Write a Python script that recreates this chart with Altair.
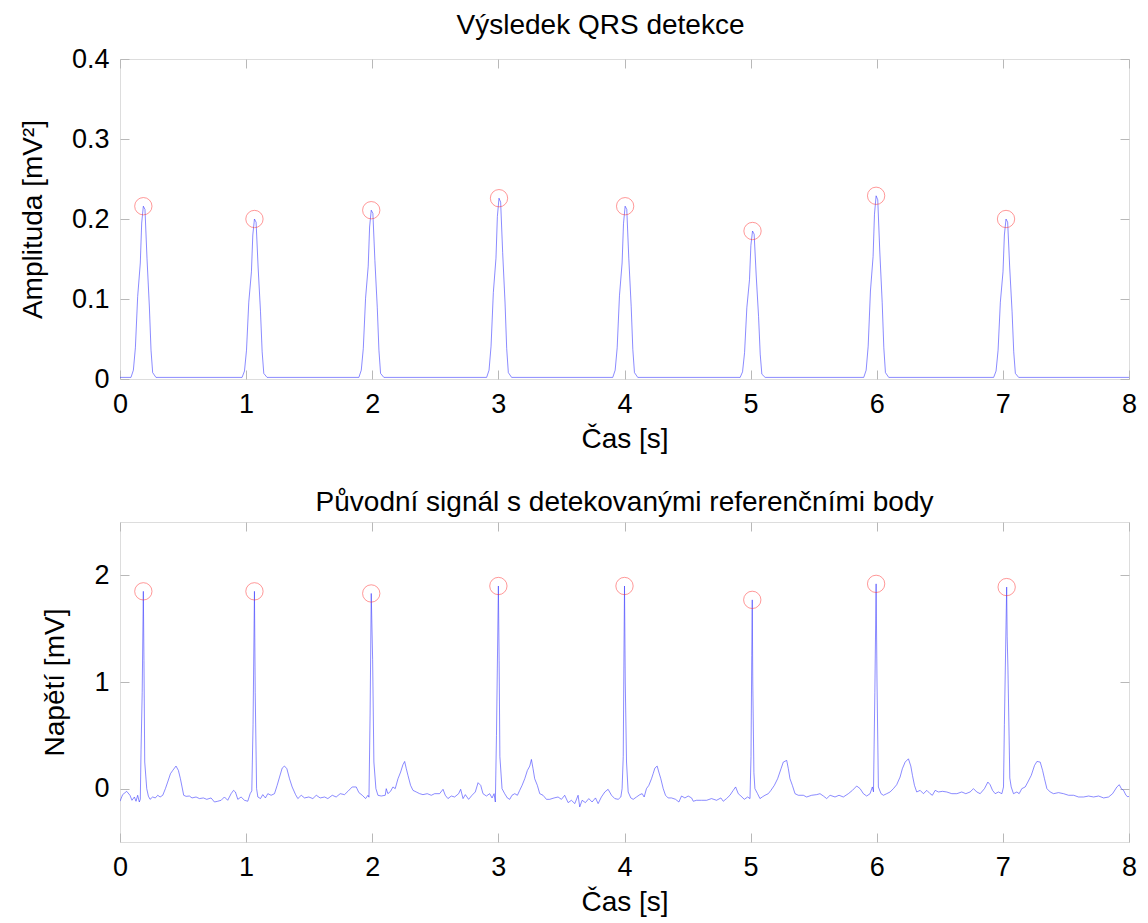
import altair as alt
import pandas as pd

# ---------------- data ----------------
# Top panel: QRS detector output (amplitude in mV^2)
top_time = [0.000,
    0.087, 0.106, 0.122, 0.140, 0.161, 0.172, 0.185, 0.198, 0.214, 0.233, 0.246, 0.259, 0.285,
    0.968, 0.987, 1.003, 1.021, 1.042, 1.053, 1.066, 1.079, 1.095, 1.114, 1.127, 1.140, 1.166,
    1.894, 1.913, 1.929, 1.947, 1.968, 1.979, 1.992, 2.005, 2.021, 2.040, 2.053, 2.066, 2.092,
    2.907, 2.926, 2.942, 2.960, 2.981, 2.992, 3.005, 3.018, 3.034, 3.053, 3.066, 3.079, 3.105,
    3.907, 3.926, 3.942, 3.960, 3.981, 3.992, 4.005, 4.018, 4.034, 4.053, 4.066, 4.079, 4.105,
    4.917, 4.936, 4.952, 4.970, 4.991, 5.002, 5.015, 5.028, 5.044, 5.063, 5.076, 5.089, 5.115,
    5.897, 5.916, 5.932, 5.950, 5.971, 5.982, 5.995, 6.008, 6.024, 6.043, 6.056, 6.069, 6.095,
    6.927, 6.946, 6.962, 6.980, 7.001, 7.012, 7.025, 7.038, 7.054, 7.073, 7.086, 7.099, 7.125,
    8.000]
top_amp = [0.002,
    0.002, 0.011, 0.039, 0.103, 0.145, 0.195, 0.216, 0.212, 0.151, 0.090, 0.036, 0.008, 0.002,
    0.002, 0.010, 0.036, 0.096, 0.134, 0.180, 0.200, 0.196, 0.140, 0.084, 0.034, 0.007, 0.002,
    0.002, 0.011, 0.038, 0.101, 0.141, 0.190, 0.211, 0.207, 0.148, 0.089, 0.036, 0.007, 0.002,
    0.002, 0.011, 0.041, 0.108, 0.151, 0.203, 0.226, 0.221, 0.158, 0.095, 0.038, 0.008, 0.002,
    0.002, 0.011, 0.039, 0.104, 0.145, 0.194, 0.216, 0.212, 0.151, 0.091, 0.037, 0.008, 0.002,
    0.002, 0.009, 0.033, 0.089, 0.124, 0.167, 0.185, 0.181, 0.130, 0.078, 0.031, 0.006, 0.002,
    0.002, 0.011, 0.041, 0.110, 0.153, 0.206, 0.229, 0.224, 0.160, 0.096, 0.039, 0.008, 0.002,
    0.002, 0.010, 0.036, 0.096, 0.134, 0.180, 0.200, 0.196, 0.140, 0.084, 0.034, 0.007, 0.002,
    0.002]

top_peak_time = [0.185, 1.066, 1.992, 3.005, 4.005, 5.015, 5.995, 7.025]
top_peak_amp = [0.216, 0.200, 0.211, 0.226, 0.216, 0.185, 0.229, 0.200]

# Bottom panel: original ECG signal (mV)
ecg_time = [
    0.000, 0.021, 0.053, 0.079, 0.095, 0.114, 0.127, 0.140, 0.153, 0.161, 0.167, 0.176, 0.185, 0.190,
    0.196, 0.212, 0.225, 0.238, 0.259, 0.280, 0.299, 0.318, 0.339, 0.360, 0.378, 0.400, 0.418, 0.444,
    0.463, 0.479, 0.492, 0.505, 0.524, 0.550, 0.571, 0.603, 0.630, 0.661, 0.688, 0.722, 0.749, 0.775,
    0.802, 0.828, 0.854, 0.881, 0.900, 0.915, 0.934, 0.960, 0.987, 1.013, 1.032, 1.045, 1.055, 1.066,
    1.072, 1.083, 1.093, 1.114, 1.132, 1.153, 1.172, 1.198, 1.225, 1.246, 1.265, 1.286, 1.304, 1.323,
    1.344, 1.365, 1.392, 1.410, 1.437, 1.463, 1.497, 1.529, 1.556, 1.587, 1.622, 1.648, 1.683, 1.714,
    1.746, 1.780, 1.807, 1.841, 1.873, 1.894, 1.921, 1.947, 1.966, 1.974, 1.983, 1.992, 2.003, 2.013,
    2.029, 2.045, 2.071, 2.103, 2.111, 2.124, 2.145, 2.164, 2.182, 2.204, 2.225, 2.243, 2.257, 2.270,
    2.283, 2.304, 2.323, 2.349, 2.376, 2.402, 2.436, 2.468, 2.495, 2.534, 2.561, 2.579, 2.600, 2.627,
    2.653, 2.685, 2.701, 2.720, 2.738, 2.764, 2.791, 2.817, 2.839, 2.860, 2.878, 2.905, 2.931, 2.950,
    2.966, 2.976, 2.985, 3.000, 3.006, 3.012, 3.029, 3.050, 3.071, 3.090, 3.108, 3.130, 3.151, 3.169,
    3.188, 3.209, 3.230, 3.249, 3.262, 3.275, 3.288, 3.309, 3.328, 3.354, 3.381, 3.407, 3.442, 3.473,
    3.500, 3.526, 3.553, 3.579, 3.606, 3.632, 3.645, 3.664, 3.690, 3.717, 3.743, 3.770, 3.791, 3.817,
    3.844, 3.870, 3.897, 3.923, 3.950, 3.971, 3.981, 3.990, 3.996, 4.000, 4.006, 4.016, 4.029, 4.050,
    4.069, 4.095, 4.122, 4.140, 4.156, 4.174, 4.193, 4.214, 4.227, 4.241, 4.259, 4.272, 4.288, 4.307,
    4.325, 4.346, 4.373, 4.405, 4.431, 4.452, 4.479, 4.505, 4.532, 4.545, 4.571, 4.611, 4.651, 4.690,
    4.730, 4.764, 4.783, 4.809, 4.836, 4.862, 4.881, 4.902, 4.923, 4.950, 4.976, 4.995, 5.003, 5.009,
    5.013, 5.017, 5.026, 5.034, 5.055, 5.074, 5.092, 5.114, 5.140, 5.161, 5.188, 5.214, 5.241, 5.259,
    5.286, 5.299, 5.312, 5.331, 5.352, 5.378, 5.418, 5.444, 5.484, 5.524, 5.550, 5.577, 5.603, 5.630,
    5.669, 5.701, 5.735, 5.775, 5.807, 5.841, 5.868, 5.894, 5.920, 5.947, 5.965, 5.974, 5.985, 5.995,
    6.002, 6.013, 6.034, 6.053, 6.079, 6.106, 6.132, 6.158, 6.185, 6.203, 6.225, 6.251, 6.270, 6.283,
    6.299, 6.317, 6.344, 6.370, 6.397, 6.423, 6.441, 6.463, 6.489, 6.521, 6.555, 6.595, 6.635, 6.674,
    6.706, 6.740, 6.767, 6.793, 6.820, 6.854, 6.881, 6.899, 6.918, 6.939, 6.965, 6.992, 7.005, 7.012,
    7.030, 7.034, 7.040, 7.055, 7.066, 7.084, 7.111, 7.129, 7.150, 7.177, 7.198, 7.225, 7.251, 7.270,
    7.296, 7.315, 7.330, 7.349, 7.375, 7.402, 7.441, 7.481, 7.521, 7.561, 7.600, 7.640, 7.680, 7.719,
    7.759, 7.799, 7.838, 7.870, 7.904, 7.923, 7.939, 7.957, 7.976, 7.992, 8.000]
ecg_mv = [
    -0.118, -0.056, -0.025, -0.062, -0.109, -0.078, -0.118, -0.062, -0.125, -0.100, 0.370, 0.900, 1.850, 1.200,
    0.250, 0.000, -0.070, -0.100, -0.078, -0.087, -0.062, -0.078, -0.062, 0.000, 0.062, 0.140, 0.171, 0.212,
    0.171, 0.093, 0.016, -0.062, -0.072, -0.069, -0.087, -0.078, -0.093, -0.087, -0.100, -0.087, -0.125, -0.118,
    -0.109, -0.078, -0.109, -0.047, -0.016, -0.031, -0.100, -0.078, -0.109, -0.118, -0.047, -0.020, 0.600, 1.850,
    0.900, 0.000, -0.078, -0.093, -0.056, -0.087, -0.047, -0.062, -0.047, 0.031, 0.109, 0.193, 0.212, 0.187,
    0.093, 0.016, -0.056, -0.093, -0.062, -0.087, -0.078, -0.093, -0.062, -0.087, -0.078, -0.093, -0.062, -0.078,
    -0.047, -0.056, -0.025, 0.016, 0.016, -0.037, -0.062, -0.093, -0.062, -0.080, 0.700, 1.830, 1.210, 0.250,
    0.000, -0.062, -0.069, -0.062, 0.000, -0.047, -0.025, 0.016, 0.000, 0.093, 0.156, 0.224, 0.255, 0.187,
    0.125, 0.031, -0.016, -0.031, -0.047, -0.056, -0.047, -0.062, -0.047, -0.047, -0.006, -0.062, -0.093, -0.069,
    -0.078, -0.047, -0.006, -0.093, -0.056, -0.100, -0.062, -0.031, 0.056, 0.031, -0.047, -0.069, -0.047, -0.087,
    -0.047, -0.125, 0.500, 1.900, 1.200, 0.300, 0.000, -0.047, -0.087, -0.100, -0.062, -0.047, -0.062, -0.016,
    0.031, 0.093, 0.171, 0.212, 0.274, 0.187, 0.093, 0.031, -0.047, -0.062, -0.100, -0.100, -0.087, -0.078,
    -0.100, -0.062, -0.131, -0.109, -0.140, -0.062, -0.171, -0.109, -0.131, -0.093, -0.125, -0.087, -0.140, -0.078,
    -0.031, -0.006, -0.062, -0.093, -0.100, -0.078, 0.000, 0.300, 1.300, 1.900, 1.000, 0.250, -0.031, -0.087,
    -0.100, -0.078, -0.056, -0.047, -0.078, 0.000, 0.031, 0.093, 0.140, 0.193, 0.212, 0.156, 0.093, 0.000,
    -0.062, -0.087, -0.087, -0.100, -0.125, -0.069, -0.087, -0.069, -0.087, -0.118, -0.109, -0.109, -0.109, -0.093,
    -0.109, -0.087, -0.118, -0.093, -0.062, -0.016, 0.016, -0.047, -0.069, -0.100, -0.078, -0.093, 0.300, 1.250,
    1.770, 1.000, 0.150, 0.000, -0.047, -0.093, -0.078, -0.062, -0.047, -0.016, 0.031, 0.093, 0.187, 0.249,
    0.265, 0.187, 0.093, 0.031, -0.047, -0.062, -0.062, -0.078, -0.062, -0.056, -0.047, -0.069, -0.093, -0.062,
    -0.078, -0.062, -0.078, -0.047, -0.016, 0.025, 0.000, -0.047, -0.069, -0.047, 0.016, -0.030, 0.900, 1.920,
    1.000, 0.016, -0.047, -0.062, -0.047, -0.031, 0.000, 0.037, 0.109, 0.187, 0.249, 0.280, 0.212, 0.125,
    0.031, -0.031, -0.016, -0.047, -0.016, -0.047, -0.062, -0.016, -0.031, -0.025, -0.031, -0.047, -0.047, -0.031,
    -0.047, -0.031, 0.000, -0.031, -0.047, 0.000, 0.062, 0.037, -0.016, -0.047, -0.031, -0.047, 0.016, 0.600,
    1.890, 1.430, 1.140, 0.100, 0.016, -0.047, -0.031, -0.047, 0.000, 0.016, 0.062, 0.125, 0.218, 0.255,
    0.249, 0.171, 0.093, 0.000, -0.031, -0.047, -0.037, -0.047, -0.062, -0.062, -0.078, -0.078, -0.069, -0.078,
    -0.069, -0.087, -0.078, -0.047, 0.016, 0.037, 0.000, -0.016, -0.062, -0.078, -0.070]

ecg_peak_time = [0.185, 1.066, 1.992, 3.000, 4.000, 5.013, 5.995, 7.030]
ecg_peak_mv = [1.85, 1.85, 1.83, 1.90, 1.90, 1.77, 1.92, 1.89]

x_ticks = [0, 1, 2, 3, 4, 5, 6, 7, 8]
top_y_ticks = [0, 0.1, 0.2, 0.3, 0.4]
bottom_y_ticks = [0, 1, 2]

# ---------------- styling ----------------
FONT = "Liberation Sans"
W, H = 1009, 320
TICK_COLOR = "#b8b8b8"
LINE_COLOR = "#3b3bff"
CIRCLE_COLOR = "#ff2a2a"

top_df = pd.DataFrame({"t": top_time, "v": top_amp})
top_pk = pd.DataFrame({"t": top_peak_time, "v": top_peak_amp})
ecg_df = pd.DataFrame({"t": ecg_time, "v": ecg_mv})
ecg_pk = pd.DataFrame({"t": ecg_peak_time, "v": ecg_peak_mv})

xscale = alt.Scale(domain=[0, 8], nice=False, zero=False)


def x_bottom_axis():
    return alt.Axis(values=x_ticks, format="d", orient="bottom", offset=-9, tickSize=9,
                    domain=False, tickColor=TICK_COLOR, tickWidth=1, grid=False,
                    labelFontSize=27, labelFont=FONT, labelColor="#000000", labelPadding=12,
                    labelFlush=False, labelOverlap=False,
                    title="Čas [s]", titleFont=FONT, titleFontSize=28, titleFontWeight="normal",
                    titleColor="#000000", titlePadding=8)


def x_top_axis():
    return alt.Axis(values=x_ticks, orient="top", offset=-9, tickSize=9, domain=False,
                    tickColor=TICK_COLOR, tickWidth=1, grid=False, labels=False, title=None)


def y_left_axis(vals, fmt, title):
    return alt.Axis(values=vals, format=fmt, orient="left", offset=-9, tickSize=9,
                    domain=False, tickColor=TICK_COLOR, tickWidth=1, grid=False,
                    labelFontSize=27, labelFont=FONT, labelColor="#000000", labelPadding=11,
                    labelFlush=False, labelOverlap=False,
                    title=title, titleFont=FONT, titleFontSize=28, titleFontWeight="normal",
                    titleColor="#000000", titlePadding=24)


def y_right_axis(vals):
    return alt.Axis(values=vals, orient="right", offset=-9, tickSize=9, domain=False,
                    tickColor=TICK_COLOR, tickWidth=1, grid=False, labels=False, title=None)


def panel(df, pk, ydomain, yvals, yfmt, ytitle, title, title_dx):
    yscale = alt.Scale(domain=ydomain, nice=False, zero=False)
    line = alt.Chart(df).mark_line(color=LINE_COLOR, strokeWidth=0.7, opacity=0.85,
                                   clip=True).encode(
        x=alt.X("t:Q", scale=xscale, axis=x_bottom_axis()),
        y=alt.Y("v:Q", scale=yscale, axis=y_left_axis(yvals, yfmt, ytitle)),
    )
    circles = alt.Chart(pk).mark_point(shape="circle", size=300, filled=False,
                                       color=CIRCLE_COLOR, strokeWidth=0.6, opacity=0.8).encode(
        x=alt.X("t:Q", scale=xscale, axis=None),
        y=alt.Y("v:Q", scale=yscale, axis=None),
    )
    ghost = alt.Chart(df).mark_line(opacity=0).encode(
        x=alt.X("t:Q", scale=xscale, axis=x_top_axis()),
        y=alt.Y("v:Q", scale=yscale, axis=y_right_axis(yvals)),
    )
    return alt.layer(line, circles, ghost).resolve_axis(
        x="independent", y="independent"
    ).properties(
        width=W, height=H,
        title=alt.TitleParams(title, font=FONT, fontSize=28, fontWeight="normal",
                              color="#000000", offset=5, anchor="middle", frame="group",
                              dx=title_dx),
    )


top = panel(top_df, top_pk, [0, 0.4], top_y_ticks, ".1~f", "Amplituda [mV²]",
            "Výsledek QRS detekce", -24)
bottom = panel(ecg_df, ecg_pk, [-0.5, 2.5], bottom_y_ticks, "d", "Napětí [mV]",
               "Původní signál s detekovanými referenčními body", 0)

chart = alt.vconcat(top, bottom, spacing=34).properties(
    padding={"left": 10, "top": 3, "right": 0, "bottom": 0},
    background="#ffffff",
).configure_view(stroke="#5a5a5a", strokeWidth=1).configure(font=FONT)

chart.save("out.html", embed_options={"renderer": "svg", "actions": False})
